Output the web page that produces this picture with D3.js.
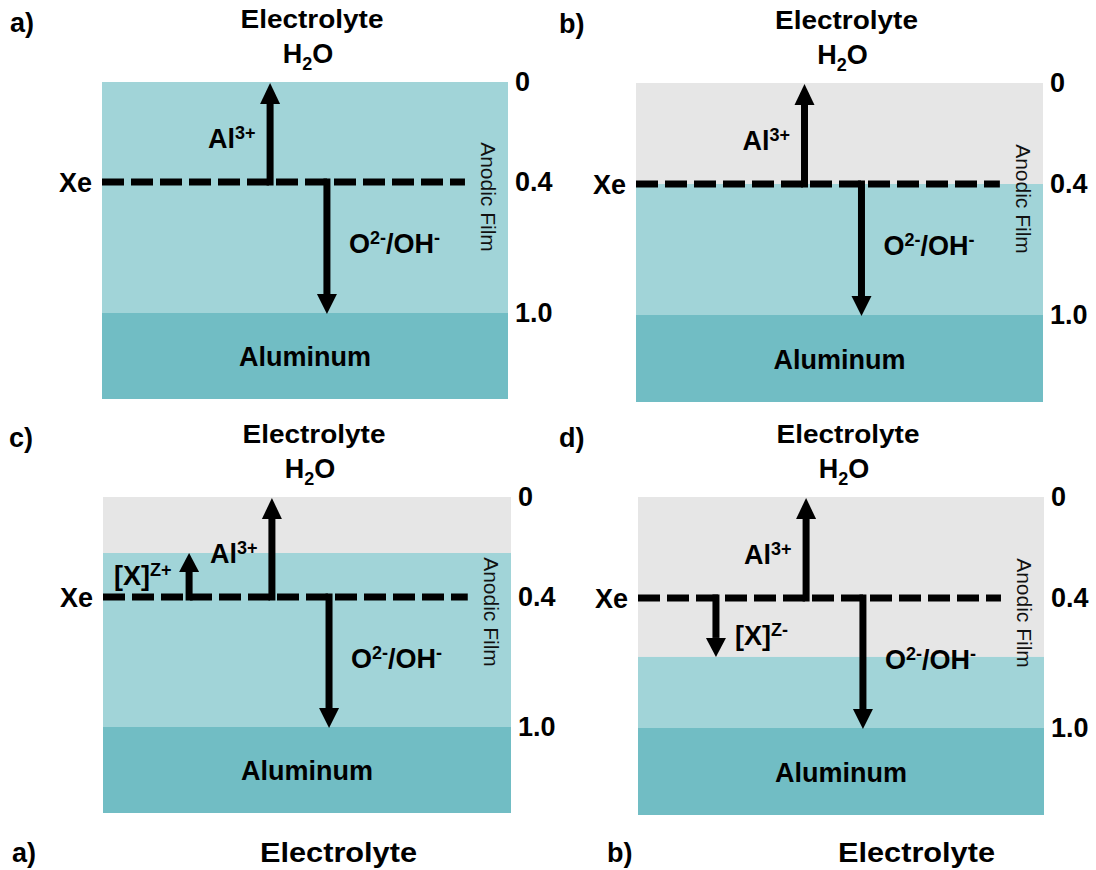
<!DOCTYPE html>
<html><head><meta charset="utf-8">
<script src="https://cdn.jsdelivr.net/npm/d3@7"></script>
<style>
body{margin:0;background:#fff}
svg text{font-family:"Liberation Sans",Arial,Helvetica,sans-serif}
</style>
</head><body>
<svg id="chart" width="1096" height="870"></svg>
<script>
// ---------- data ----------
const panelIds      = ["a)", "b)", "c)", "d)"];
const depthTicks    = [0, 0.4, 1.0];
const tickLabels    = ["0", "0.4", "1.0"];
const xeDepth       = [0.4, 0.4, 0.4, 0.4];
const filmTopDepth  = [0, 0.4, 0.224, 0.672];   // top of the anodic film (electrolyte side)
const aluminumDepth = [1.0, 1.0, 1.0, 1.0];
const bottomDepth   = [1.4, 1.4, 1.4, 1.4];
const alArrowPos    = [0.414, 0.414, 0.414, 0.414];
const oxArrowPos    = [0.554, 0.554, 0.554, 0.554];
const xArrowPos     = [null, null, 0.211, 0.192];
const xArrowTo      = [null, null, 0.224, 0.672];
const xIonCharge    = [null, null, "Z+", "Z-"];
const bottomRowIds  = ["a)", "b)"];

// ---------- layout ----------
const frames = [
  {x0:102, x1:508, y:[82,182,313,399], idX:10},
  {x0:636, x1:1043, y:[83,184,315,402], idX:559},
  {x0:103, x1:511, y:[497,597,727,813], idX:9},
  {x0:638, x1:1044, y:[497,598,728,815], idX:559}
];
const COL_GRAY = "#e6e6e6", COL_FILM = "#a1d4d8", COL_AL = "#71bdc4";
const FS = 27, SUP = 18;

const svg = d3.select("#chart");

function rich(g, x, y, runs, anchor, size){
  const t = g.append("text").attr("x", x).attr("y", y)
    .attr("text-anchor", anchor || "start")
    .attr("font-weight", "bold").attr("font-size", size || FS).attr("fill", "#000");
  let shift = 0;
  runs.forEach(r => {
    let target = 0;
    if (r.sup) target = -9;
    if (r.sub) target = 7;
    const ts = t.append("tspan").text(r.t).attr("dy", target - shift);
    if (r.sup || r.sub) ts.attr("font-size", SUP);
    shift = target;
  });
  return t;
}

function arrow(g, x, yFrom, yTo, sw, hw, hl){
  const dir = yTo < yFrom ? -1 : 1;
  const start = yFrom - dir * 3.5;
  const base = yTo - dir * hl;
  g.append("rect").attr("x", x - sw/2).attr("width", sw)
    .attr("y", Math.min(start, base)).attr("height", Math.abs(base - start)).attr("fill", "#000");
  g.append("path").attr("d", `M${x - hw/2},${base} L${x + hw/2},${base} L${x},${yTo} Z`).attr("fill", "#000");
}

panelIds.forEach((id, i) => {
  const f = frames[i];
  const g = svg.append("g");
  const yS = d3.scaleLinear().domain([0, 0.4, 1.0, bottomDepth[i]]).range(f.y);
  const xS = d3.scaleLinear().domain([0, 1]).range([f.x0, f.x1]);
  const cx = (f.x0 + f.x1) / 2;

  // layers
  const layers = [
    {from:0, to:filmTopDepth[i], c:COL_GRAY},
    {from:filmTopDepth[i], to:aluminumDepth[i], c:COL_FILM},
    {from:aluminumDepth[i], to:bottomDepth[i], c:COL_AL}
  ];
  g.selectAll("rect.layer").data(layers.filter(l => l.to > l.from)).join("rect")
    .attr("class", "layer")
    .attr("x", xS(0)).attr("width", xS(1) - xS(0))
    .attr("y", d => yS(d.from)).attr("height", d => yS(d.to) - yS(d.from))
    .attr("fill", d => d.c);

  // dashed Xe line
  const ye = yS(xeDepth[i]);
  g.append("line").attr("x1", xS(0)).attr("x2", xS(0.894)).attr("y1", ye).attr("y2", ye)
    .attr("stroke", "#000").attr("stroke-width", 7).attr("stroke-dasharray", "22,7");

  // arrows
  const ax = xS(alArrowPos[i]);
  arrow(g, ax, ye, yS(0) + 1, 7, 20, 21);
  const ox = xS(oxArrowPos[i]);
  arrow(g, ox, ye, yS(aluminumDepth[i]) + 1, 7, 20, 20);
  if (xArrowPos[i] !== null){
    const xx = xS(xArrowPos[i]);
    arrow(g, xx, ye, yS(xArrowTo[i]), 7, 20, 19);
    if (xIonCharge[i] === "Z+")
      rich(g, xx - 75, ye - 12, [{t:"[X]"}, {t:xIonCharge[i], sup:true}]);
    else
      rich(g, xx + 19, ye + 47, [{t:"[X]"}, {t:xIonCharge[i], sup:true}]);
  }

  // ion labels
  rich(g, ax - 62, ye - 34, [{t:"Al"}, {t:"3+", sup:true}]);
  rich(g, ox + 22, ye + 71, [{t:"O"}, {t:"2-", sup:true}, {t:"/OH"}, {t:"-", sup:true}]);

  // Xe
  rich(g, f.x0 - 10, ye + 10, [{t:"Xe"}], "end");

  // headers
  g.append("text").attr("x", cx + 7).attr("y", f.y[0] - 54)
    .attr("text-anchor", "middle").attr("font-weight", "bold").attr("font-size", 25)
    .attr("textLength", 143).attr("lengthAdjust", "spacingAndGlyphs").text("Electrolyte");
  rich(g, cx + 3, f.y[0] - 19, [{t:"H"}, {t:"2", sub:true}, {t:"O"}], "middle");

  // aluminum
  rich(g, cx, (yS(aluminumDepth[i]) + yS(bottomDepth[i])) / 2 + 10, [{t:"Aluminum"}], "middle");

  // panel id
  rich(g, f.idX, f.y[0] - 50, [{t:id}]);

  // Anodic Film (rotated)
  g.append("text")
    .attr("transform", `translate(${f.x1 - 20},${ye + 15}) rotate(90)`)
    .attr("text-anchor", "middle").attr("dy", "0.35em")
    .attr("font-size", 21).attr("fill", "#111").text("Anodic Film");

  // depth axis on the right
  const ax2 = g.append("g").attr("transform", `translate(${f.x1},0)`)
    .call(d3.axisRight(yS).tickValues(depthTicks).tickFormat((d, k) => tickLabels[k]).tickSize(0).tickPadding(7));
  ax2.select(".domain").remove();
  ax2.selectAll("text").attr("font-size", FS).attr("font-weight", "bold").attr("fill", "#000")
    .style("font-family", "'Liberation Sans',Arial,sans-serif");
});

// partial repeated header row at the bottom
const bottomX = [{id:12, el:260}, {id:607, el:838}];
bottomRowIds.forEach((id, i) => {
  rich(svg, bottomX[i].id, 862, [{t:id}], "start", 27);
  svg.append("text").attr("x", bottomX[i].el).attr("y", 862)
    .attr("font-weight", "bold").attr("font-size", 27)
    .attr("textLength", 157).attr("lengthAdjust", "spacingAndGlyphs").text("Electrolyte");
});
</script>
</body></html>
